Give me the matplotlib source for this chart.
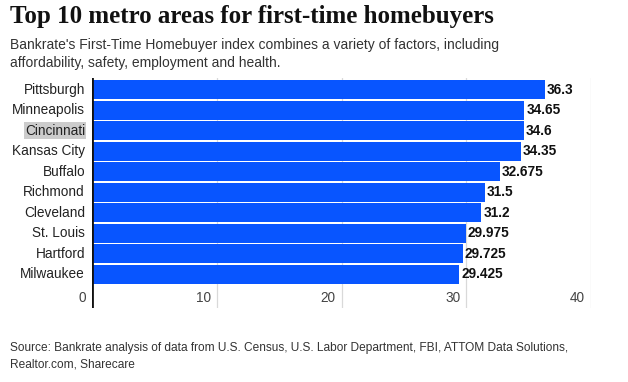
import numpy as np
import matplotlib
matplotlib.use('Agg')
import matplotlib.pyplot as plt
import matplotlib.transforms as mtransforms

# Data
metros = ["Pittsburgh", "Minneapolis", "Cincinnati", "Kansas City", "Buffalo",
          "Richmond", "Cleveland", "St. Louis", "Hartford", "Milwaukee"]
scores = [36.3, 34.65, 34.6, 34.35, 32.675, 31.5, 31.2, 29.975, 29.725, 29.425]
score_labels = ["36.3", "34.65", "34.6", "34.35", "32.675",
                "31.5", "31.2", "29.975", "29.725", "29.425"]
x_ticks = [0, 10, 20, 30, 40]

TITLE = "Top 10 metro areas for first-time homebuyers"
SUBTITLE = ("Bankrate's First-Time Homebuyer index combines a variety of factors, including\n"
            "affordability, safety, employment and health.")
SOURCE = ("Source: Bankrate analysis of data from U.S. Census, U.S. Labor Department, FBI, ATTOM Data Solutions,\n"
          "Realtor.com, Sharecare")

W, H = 628, 382
BAR_COLOR = "#0855ff"

plt.rcParams['font.family'] = ['Liberation Sans', 'DejaVu Sans']

fig = plt.figure(figsize=(W / 100, H / 100), dpi=100)
ax = fig.add_axes([92 / W, 1 - 308 / H, 499 / W, 230 / H])

y = np.arange(len(metros))
ax.barh(y, scores, height=0.92, color=BAR_COLOR, zorder=2)
ax.set_xlim(0, 40)
ax.set_ylim(10.63, -0.56)

# gridlines
for t in x_ticks[1:]:
    ax.axvline(t, color="#d9d9d9", linewidth=0.9, zorder=1)
ax.axvline(0, color="#111111", linewidth=2, zorder=3)

for s in ax.spines.values():
    s.set_visible(False)
ax.set_xticks([])
ax.set_yticks([])

# x tick labels, right-aligned a few pixels left of their gridline
tick_tr = mtransforms.offset_copy(ax.transData, fig=fig, x=-6, y=0, units='dots')
for t in x_ticks:
    ax.text(t, 10.14, str(t), transform=tick_tr, ha="right", va="center",
            fontsize=9.8, color="#444444")

# category labels
lab_tr = mtransforms.offset_copy(ax.transData, fig=fig, x=-7, y=0, units='dots')
for i, name in enumerate(metros):
    kw = {}
    if name == "Cincinnati":
        kw["bbox"] = dict(boxstyle="square,pad=0.1", fc="#cccccc", ec="none")
    ax.text(0, i, name, transform=lab_tr, ha="right", va="center",
            fontsize=9.8, color="#222222", **kw)

# value labels
val_tr = mtransforms.offset_copy(ax.transData, fig=fig, x=2, y=0, units='dots')
for i, (v, lab) in enumerate(zip(scores, score_labels)):
    ax.text(v, i, lab, transform=val_tr, ha="left", va="center",
            fontsize=9.8, fontweight="bold", color="#111111")

fig.text(10 / W, 1 - 17 / H, TITLE, ha="left", va="center",
         fontsize=18, fontweight="bold", family="Liberation Serif", color="#111111")
fig.text(10 / W, 1 - 54 / H, SUBTITLE, ha="left", va="center",
         fontsize=10, color="#333333", linespacing=1.4)
fig.text(10 / W, 1 - 356 / H, SOURCE, ha="left", va="center",
         fontsize=8.6, color="#333333", linespacing=1.55)

fig.savefig("out.png", dpi=100)
plt.close(fig)
